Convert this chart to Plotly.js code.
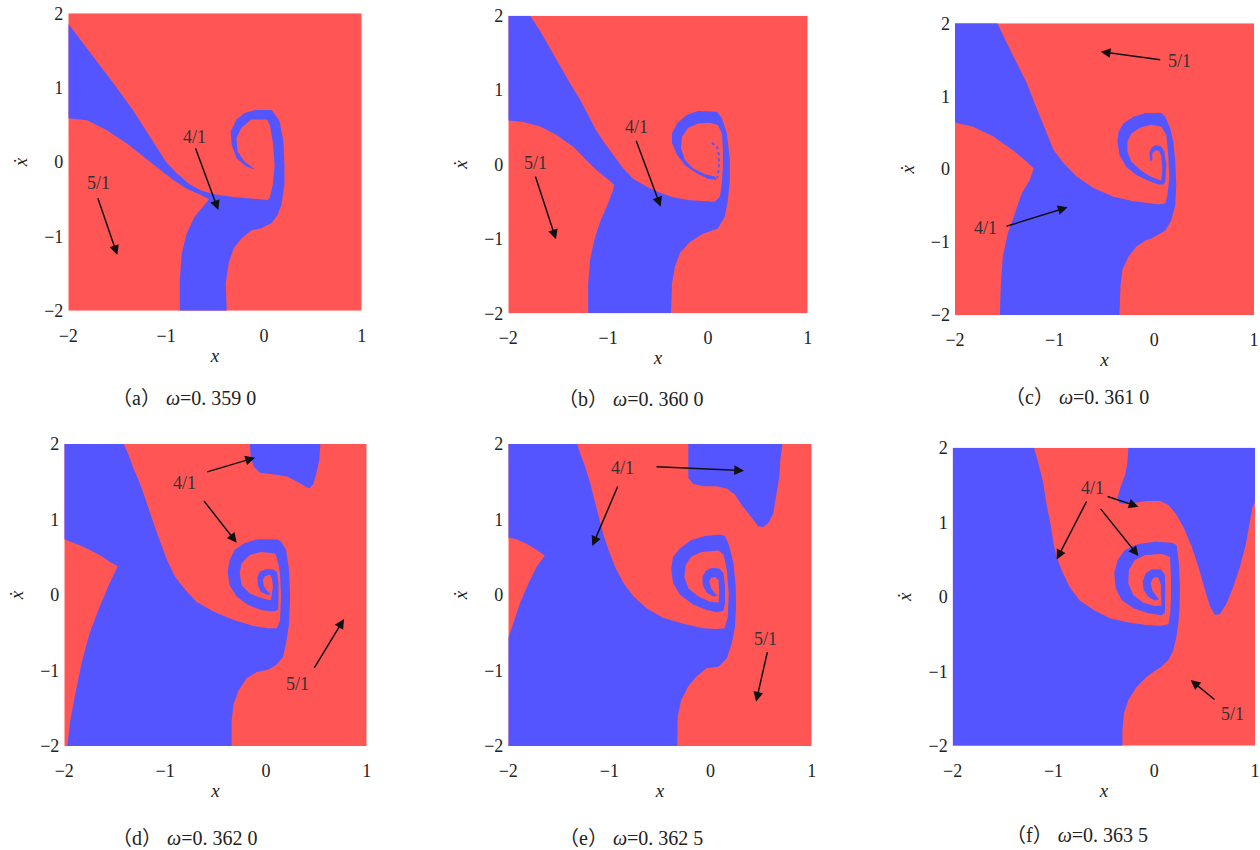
<!DOCTYPE html>
<html><head><meta charset="utf-8">
<script src="https://cdn.plot.ly/plotly-3.0.1.min.js"></script>
<style>html,body{margin:0;padding:0;background:#fff}#chart{width:1260px;height:850px}</style>
</head><body><div id="chart"></div>
<script>
// ---------------- data ----------------
const X_RANGE = [-2, 1];
const Y_RANGE = [-2, 2];
const X_TICKS = [-2, -1, 0, 1];
const Y_TICKS = [-2, -1, 0, 1, 2];
const OMEGA = ['0. 359 0', '0. 360 0', '0. 361 0', '0. 362 0', '0. 362 5', '0. 363 5'];
const PANEL_TAGS = ['a', 'b', 'c', 'd', 'e', 'f'];

// basin boundaries, [x, x_dot] vertices
const aBlue = [[-2,1.86],[-1.81,1.53],[-1.68,1.31],[-1.51,1.01],[-1.34,0.7],[-1.2,0.41],[-1.1,0.21],[-1,0],[-0.89,-0.15],[-0.77,-0.29],[-0.65,-0.38],[-0.52,-0.43],[-0.31,-0.47],[-0.11,-0.49],[0.04,-0.51],
 [0.06,-0.48],[0.09,-0.31],[0.11,-0.04],[0.09,0.28],[0.06,0.5],[0.03,0.57],
 [-0.13,0.57],[-0.23,0.46],[-0.28,0.32],[-0.27,0.14],[-0.2,0.01],[-0.09,-0.1],
 [-0.18,-0.06],[-0.28,0.05],[-0.33,0.23],[-0.34,0.41],[-0.28,0.57],[-0.2,0.66],[-0.09,0.7],[0.08,0.7],
 [0.16,0.55],[0.2,0.28],[0.21,-0.04],[0.21,-0.31],[0.18,-0.57],[0.14,-0.71],[0.08,-0.82],[-0.03,-0.89],
 [-0.13,-0.92],[-0.23,-1.03],[-0.31,-1.16],[-0.36,-1.36],[-0.39,-1.63],[-0.38,-2],
 [-0.86,-2],[-0.86,-1.59],[-0.84,-1.23],[-0.79,-0.96],[-0.71,-0.74],[-0.62,-0.6],[-0.56,-0.5],
 [-0.65,-0.44],[-0.79,-0.36],[-0.93,-0.24],[-1.06,-0.11],[-1.23,0.07],[-1.4,0.25],[-1.61,0.43],[-1.81,0.56],[-2,0.59]];

const bBlue = [[-2,2],[-1.78,2],[-1.68,1.79],[-1.58,1.55],[-1.48,1.32],[-1.38,1.09],[-1.28,0.87],[-1.2,0.67],[-1.12,0.46],[-1.03,0.28],[-0.95,0.13],[-0.85,-0.05],[-0.75,-0.19],[-0.61,-0.3],[-0.48,-0.38],[-0.35,-0.44],[-0.18,-0.48],[-0.01,-0.5],[0.07,-0.5],
 [0.12,-0.43],[0.14,-0.25],[0.15,-0.03],[0.15,0.2],[0.14,0.42],[0.1,0.53],
 [0.02,0.56],[-0.1,0.55],[-0.2,0.49],[-0.26,0.37],[-0.27,0.22],[-0.23,0.06],[-0.15,-0.05],[-0.03,-0.13],[0.07,-0.16],[0.09,-0.21],
 [0,-0.19],[-0.11,-0.12],[-0.23,-0.01],[-0.31,0.13],[-0.36,0.29],[-0.36,0.42],[-0.31,0.55],[-0.21,0.67],[-0.1,0.72],[0.09,0.71],
 [0.14,0.62],[0.19,0.42],[0.22,0.06],[0.22,-0.21],[0.2,-0.48],[0.17,-0.7],[0.1,-0.86],
 [-0.05,-0.93],[-0.18,-1.04],[-0.28,-1.19],[-0.33,-1.37],[-0.36,-1.6],[-0.37,-2],
 [-1.2,-2],[-1.2,-1.6],[-1.18,-1.28],[-1.14,-1.02],[-1.08,-0.77],[-1,-0.52],[-0.95,-0.34],[-0.94,-0.27],
 [-1.01,-0.19],[-1.12,-0.07],[-1.22,0.06],[-1.35,0.24],[-1.52,0.4],[-1.68,0.51],[-1.85,0.57],[-2,0.59]];
const bDots = [[0.04,0.29],[0.09,0.24],[0.11,0.13],[0.11,-0.07],[0.09,-0.18]];

const cBlue = [[-2,2],[-1.575,2],[-1.48,1.73],[-1.38,1.45],[-1.28,1.18],[-1.2,0.9],[-1.13,0.67],[-1.08,0.49],[-1.01,0.26],[-0.91,0.08],[-0.78,-0.1],[-0.61,-0.26],[-0.41,-0.38],[-0.21,-0.44],[-0.04,-0.47],[0.04,-0.48],
 [0.11,-0.47],[0.13,-0.36],[0.15,-0.13],[0.14,0.19],[0.12,0.47],[0.07,0.58],
 [-0.03,0.61],[-0.14,0.57],[-0.23,0.49],[-0.27,0.38],[-0.27,0.24],[-0.23,0.1],[-0.14,-0.01],[-0.04,-0.1],[0.07,-0.16],
 [0.08,0.01],[0.07,0.17],[0.05,0.25],[0.01,0.26],[-0.02,0.22],[-0.02,0.13],[-0.04,0.1],
 [-0.05,0.22],[-0.03,0.29],[0.01,0.33],[0.07,0.31],[0.1,0.24],[0.12,0.06],[0.11,-0.17],
 [0.09,-0.21],[0.04,-0.21],[-0.06,-0.16],[-0.18,-0.08],[-0.28,0.03],[-0.35,0.19],[-0.37,0.38],[-0.36,0.51],[-0.31,0.63],[-0.21,0.72],[-0.09,0.77],[0.07,0.77],
 [0.11,0.72],[0.16,0.56],[0.19,0.38],[0.21,0.1],[0.22,-0.22],[0.21,-0.49],[0.17,-0.7],[0.11,-0.84],[-0.03,-0.95],
 [-0.08,-0.97],[-0.18,-1.06],[-0.26,-1.2],[-0.32,-1.38],[-0.34,-1.61],[-0.35,-2],
 [-1.55,-2],[-1.54,-1.57],[-1.52,-1.2],[-1.47,-0.88],[-1.4,-0.61],[-1.33,-0.33],[-1.25,-0.15],[-1.21,0.01],
 [-1.28,0.1],[-1.42,0.26],[-1.62,0.45],[-1.82,0.58],[-2,0.64]];

const dBlue = [[-2,2],[-1.41,2],[-1.37,1.88],[-1.32,1.7],[-1.25,1.48],[-1.18,1.21],[-1.13,0.99],[-1.08,0.82],[-1.03,0.64],[-0.98,0.46],[-0.9,0.24],[-0.8,0.07],[-0.69,-0.09],[-0.52,-0.22],[-0.32,-0.33],[-0.12,-0.41],[0.02,-0.44],[0.11,-0.44],
 [0.14,-0.33],[0.15,-0.02],[0.14,0.29],[0.11,0.49],[0.09,0.55],
 [-0.05,0.57],[-0.16,0.53],[-0.24,0.42],[-0.26,0.29],[-0.24,0.13],[-0.16,0.02],[-0.05,-0.04],[0.05,-0.07],
 [0.07,0.11],[0.06,0.22],[0.04,0.27],[-0.01,0.25],[-0.03,0.2],[-0.02,0.12],[0.01,0.06],[0.05,0.01],
 [0.02,0],[-0.05,0.04],[-0.08,0.13],[-0.085,0.24],[-0.06,0.31],[0,0.34],[0.07,0.34],[0.11,0.3],[0.125,0.16],[0.125,-0.07],[0.12,-0.2],
 [0.07,-0.22],[-0.05,-0.2],[-0.18,-0.13],[-0.29,-0.02],[-0.36,0.13],[-0.38,0.31],[-0.36,0.46],[-0.31,0.6],[-0.21,0.69],[-0.08,0.74],[0.11,0.74],[0.15,0.71],
 [0.2,0.6],[0.23,0.33],[0.24,-0.02],[0.23,-0.38],[0.2,-0.64],[0.17,-0.82],[0.1,-0.93],[0.02,-0.99],
 [-0.09,-1.02],[-0.19,-1.1],[-0.27,-1.26],[-0.32,-1.44],[-0.34,-1.66],[-0.34,-2],
 [-1.97,-2],[-1.94,-1.66],[-1.89,-1.3],[-1.83,-0.91],[-1.75,-0.51],[-1.65,-0.16],[-1.55,0.16],[-1.47,0.38],
 [-1.55,0.44],[-1.65,0.53],[-1.81,0.64],[-2,0.74]];
const dTopBlue = [[-0.16,2],[-0.15,1.83],[-0.12,1.7],[-0.06,1.62],[0.07,1.6],[0.21,1.57],[0.31,1.5],[0.39,1.44],[0.43,1.41],[0.47,1.47],[0.5,1.61],[0.53,1.79],[0.54,2]];

const eBlue = [[-2,2],[-1.32,2],[-1.29,1.88],[-1.24,1.7],[-1.19,1.48],[-1.14,1.21],[-1.1,0.99],[-1.06,0.8],[-1.01,0.6],[-0.945,0.375],[-0.86,0.155],[-0.76,-0.02],[-0.63,-0.18],[-0.47,-0.3],[-0.27,-0.38],[-0.07,-0.44],[0.05,-0.45],[0.14,-0.44],
 [0.17,-0.29],[0.18,0.02],[0.16,0.33],[0.13,0.53],[0.08,0.59],
 [-0.09,0.57],[-0.19,0.51],[-0.245,0.4],[-0.26,0.24],[-0.22,0.09],[-0.12,-0.02],[-0.005,-0.09],[0.08,-0.1],
 [0.084,0.07],[0.077,0.2],[0.045,0.24],[0.005,0.23],[-0.012,0.18],[0.005,0.09],[0.045,0.02],[0.077,-0.01],
 [0.028,-0.02],[-0.038,0.03],[-0.077,0.13],[-0.081,0.24],[-0.047,0.32],[0.012,0.36],[0.084,0.35],[0.127,0.29],[0.143,0.11],[0.143,-0.11],[0.127,-0.21],
 [0.061,-0.23],[-0.038,-0.2],[-0.17,-0.13],[-0.3,0],[-0.37,0.155],[-0.39,0.35],[-0.37,0.51],[-0.3,0.62],[-0.19,0.73],[-0.054,0.78],[0.094,0.8],[0.143,0.78],
 [0.183,0.66],[0.226,0.42],[0.249,0.11],[0.252,-0.155],[0.242,-0.42],[0.21,-0.64],[0.16,-0.84],[0.077,-0.95],
 [-0.04,-0.97],[-0.14,-1.08],[-0.22,-1.21],[-0.29,-1.39],[-0.325,-1.61],[-0.33,-2],
 [-2,-2],[-2,-0.57],
 [-1.95,-0.375],[-1.885,-0.11],[-1.8,0.155],[-1.72,0.375],[-1.64,0.52],[-1.72,0.6],[-1.82,0.68],[-1.92,0.74],[-2,0.76]];
const eTopBlue = [[-0.22,2],[-0.22,1.79],[-0.22,1.55],[-0.17,1.47],[-0.07,1.44],[0.06,1.44],[0.16,1.41],[0.24,1.33],[0.32,1.17],[0.41,1.02],[0.47,0.91],[0.52,0.9],[0.57,0.95],[0.62,1.08],[0.65,1.3],[0.68,1.57],[0.69,1.79],[0.71,2]];

const fBlue = [[-2,2],[-1.193,2],[-1.15,1.79],[-1.1,1.52],[-1.07,1.25],[-1.03,0.98],[-1,0.72],[-0.97,0.54],[-0.92,0.36],[-0.84,0.13],[-0.74,-0.05],[-0.6,-0.18],[-0.44,-0.29],[-0.24,-0.35],[-0.075,-0.38],[0.058,-0.39],[0.14,-0.37],
 [0.159,-0.223],[0.166,0],[0.166,0.268],[0.156,0.537],
 [0.073,0.573],[-0.092,0.56],[-0.191,0.493],[-0.251,0.358],[-0.258,0.18],[-0.208,0.023],[-0.109,-0.081],[0.007,-0.125],[0.073,-0.118],
 [0.066,0.023],[0.066,0.157],[0.04,0.26],[-0.01,0.255],[-0.036,0.18],[-0.02,0.09],[0.007,0.032],[0.047,-0.035],
 [0.007,-0.054],[-0.06,0],[-0.105,0.09],[-0.115,0.201],[-0.085,0.314],[-0.026,0.368],[0.066,0.368],[0.106,0.291],[0.109,0.134],[0.109,-0.111],[0.106,-0.215],
 [0.073,-0.25],[-0.06,-0.223],[-0.208,-0.156],[-0.323,-0.044],[-0.383,0.113],[-0.397,0.314],[-0.363,0.493],[-0.291,0.627],[-0.159,0.707],[0.007,0.738],[0.173,0.725],
 [0.222,0.694],[0.245,0.448],[0.255,0.134],[0.25,-0.18],[0.24,-0.35],[0.22,-0.54],[0.19,-0.72],[0.14,-0.85],[0.07,-0.94],[-0.01,-1.01],
 [-0.075,-1.074],[-0.174,-1.208],[-0.257,-1.387],[-0.3,-1.566],[-0.316,-1.79],[-0.316,-2],
 [-2,-2]];
const fTopBlue = [[-0.257,2],[-0.267,1.79],[-0.29,1.633],[-0.333,1.477],[-0.366,1.32],[-0.346,1.253],[-0.273,1.244],[-0.174,1.262],[-0.075,1.284],[0.058,1.284],[0.14,1.23],[0.223,1.096],[0.296,0.917],[0.372,0.671],[0.438,0.403],[0.504,0.089],[0.554,-0.134],[0.603,-0.246],[0.653,-0.233],[0.719,-0.089],[0.785,0.134],[0.851,0.403],[0.911,0.716],[0.951,1.029],[0.977,1.208],[1,1.275],[1,2]];

// attractor labels [text, x, x_dot] and arrows [tailX, tailY, headX, headY]
const aLabels = [['4/1',-0.705,0.341],['5/1',-1.693,-0.278]];
const aArrows = [[-0.705,0.206,-0.466,-0.646],[-1.703,-0.466,-1.499,-1.251]];
const bLabels = [['4/1',-0.714,0.499],['5/1',-1.726,0.016]];
const bArrows = [[-0.724,0.338,-0.473,-0.567],[-1.733,-0.141,-1.522,-1.006]];
const cLabels = [['5/1',0.251,1.488],['4/1',-1.692,-0.811]];
const cArrows = [[0.074,1.497,-0.538,1.611],[-1.498,-0.789,-0.87,-0.523]];
const dLabels = [['4/1',-0.809,1.488],['5/1',0.316,-1.183]];
const dArrows = [[-0.597,1.625,-0.108,1.819],[-0.627,1.267,-0.29,0.693],[0.471,-0.985,0.775,-0.318]];
const eLabels = [['4/1',-0.869,1.678],['5/1',0.539,-0.587]];
const eArrows = [[-0.912,1.457,-1.169,0.649],[-0.549,1.7,0.331,1.647],[0.565,-0.737,0.45,-1.413]];
const fLabels = [['4/1',-0.614,1.454],['5/1',0.775,-1.575]];
const fArrows = [[-0.664,1.298,-0.968,0.501],[-0.544,1.199,-0.157,0.546],[-0.478,1.351,-0.157,1.208],[0.613,-1.396,0.361,-1.119]];

// ---------------- presentation ----------------
const RED = '#FF5555', BLUE = '#5555FF';
const W = 1260, H = 850;
const FONT = 'Liberation Serif, Times New Roman, DejaVu Serif, Noto Sans CJK SC, serif';
const BOXES = [[68.3,13.3,361.7,310.7],[508.3,15.7,807.7,313.3],[955,23.3,1254,315],
               [64.3,444,366.7,746],[508.3,444,811.7,746],[952.7,447.7,1255,745.7]];
const CAP_POS = [[184,398],[630,399],[1077,397],[184,838],[631,838],[1077,835]];

const PANELS = [
  {base: RED, blue: [aBlue], dots: null, labels: aLabels, arrows: aArrows},
  {base: RED, blue: [bBlue], dots: bDots, labels: bLabels, arrows: bArrows},
  {base: RED, blue: [cBlue], dots: null, labels: cLabels, arrows: cArrows},
  {base: RED, blue: [dBlue, dTopBlue], dots: null, labels: dLabels, arrows: dArrows},
  {base: RED, blue: [eBlue, eTopBlue], dots: null, labels: eLabels, arrows: eArrows},
  {base: RED, blue: [fBlue, fTopBlue], dots: null, labels: fLabels, arrows: fArrows}
];

const traces = [];
const annotations = [];
const layout = {
  width: W, height: H, margin: {l: 0, r: 0, t: 0, b: 0},
  paper_bgcolor: '#ffffff', plot_bgcolor: '#ffffff', showlegend: false,
  font: {family: FONT, color: '#222', size: 17},
  annotations: annotations
};

PANELS.forEach((p, i) => {
  const n = i === 0 ? '' : String(i + 1);
  const xa = 'x' + n, ya = 'y' + n;
  const b = BOXES[i];
  traces.push({type: 'scatter', mode: 'lines', xaxis: xa, yaxis: ya, hoverinfo: 'skip',
    x: [X_RANGE[0], X_RANGE[1], X_RANGE[1], X_RANGE[0]],
    y: [Y_RANGE[0], Y_RANGE[0], Y_RANGE[1], Y_RANGE[1]],
    fill: 'toself', fillcolor: p.base, line: {width: 0}});
  p.blue.forEach(poly => traces.push({type: 'scatter', mode: 'lines', xaxis: xa, yaxis: ya, hoverinfo: 'skip',
    x: poly.map(q => q[0]), y: poly.map(q => q[1]),
    fill: 'toself', fillcolor: BLUE, line: {width: 0}}));
  if (p.dots) traces.push({type: 'scatter', mode: 'lines', xaxis: xa, yaxis: ya, hoverinfo: 'skip',
    x: p.dots.map(q => q[0]), y: p.dots.map(q => q[1]),
    line: {color: BLUE, width: 2, dash: 'dot'}});

  layout['xaxis' + n] = {
    domain: [b[0] / W, b[2] / W], range: X_RANGE, anchor: ya, fixedrange: true,
    showgrid: false, zeroline: false, showline: false, ticks: '', ticklabelstandoff: 12,
    tickvals: X_TICKS, tickfont: {family: FONT, size: 18, color: '#222'},
    title: {text: '<i>x</i>', font: {family: FONT, size: 19, color: '#222'}, standoff: 3}
  };
  layout['yaxis' + n] = {
    domain: [1 - b[3] / H, 1 - b[1] / H], range: Y_RANGE, anchor: xa, fixedrange: true,
    showgrid: false, zeroline: false, showline: false, ticks: '', ticklabelstandoff: 4,
    tickvals: Y_TICKS, tickfont: {family: FONT, size: 18, color: '#222'},
    title: {text: '<i>ẋ</i>', font: {family: FONT, size: 19, color: '#222'}, standoff: 11}
  };

  p.labels.forEach(l => annotations.push({xref: xa, yref: ya, x: l[1], y: l[2], text: l[0],
    showarrow: false, font: {family: FONT, size: 18, color: '#333'}}));
  p.arrows.forEach(a => annotations.push({xref: xa, yref: ya, axref: xa, ayref: ya,
    ax: a[0], ay: a[1], x: a[2], y: a[3], text: '', showarrow: true,
    arrowhead: 2, arrowsize: 1.3, arrowwidth: 1.5, arrowcolor: '#111', standoff: 0, startstandoff: 0}));

  annotations.push({xref: 'paper', yref: 'paper', x: CAP_POS[i][0] / W, y: 1 - CAP_POS[i][1] / H,
    xanchor: 'center', yanchor: 'middle', showarrow: false,
    text: '（' + PANEL_TAGS[i] + '） <i>ω</i>=' + OMEGA[i],
    font: {family: FONT, size: 20, color: '#222'}});
});

Plotly.newPlot('chart', traces, layout, {staticPlot: true, displayModeBar: false});
</script></body></html>
